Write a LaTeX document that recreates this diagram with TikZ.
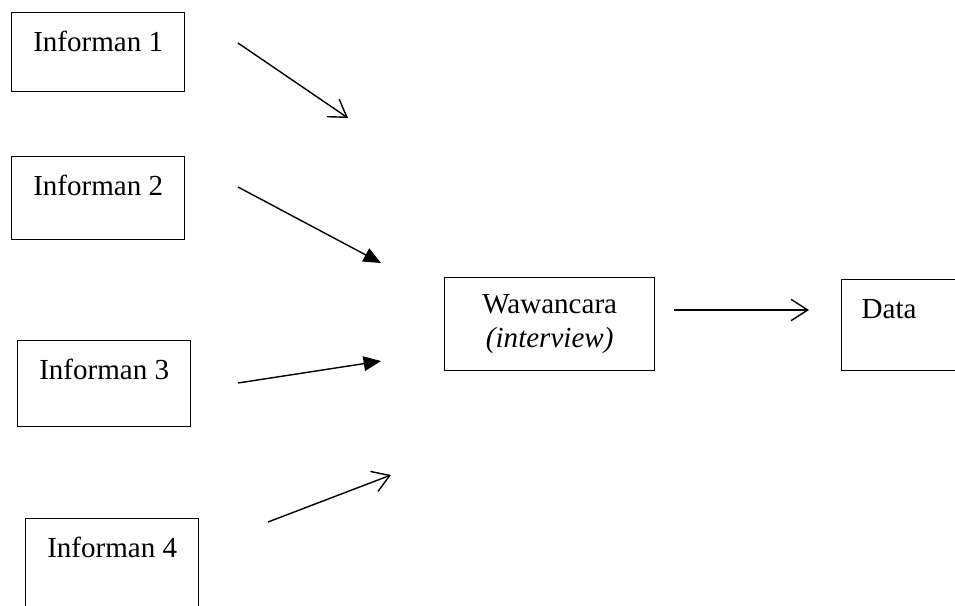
\documentclass[tikz,border=0pt]{standalone}
\usepackage{fontspec}
\setmainfont{Liberation Serif}
\usepackage{tikz}
\usetikzlibrary{positioning,arrows.meta}
\tikzset{
  blk/.style={draw,line width=0.6pt,inner sep=0pt,font=\fontsize{12.4}{14.2}\selectfont},
  inf/.style={blk,anchor=north west,minimum width=2.595cm,text height=0.585cm,align=center},
  ar/.style={-{Straight Barb[length=2.5mm,width=3.2mm]},line width=0.6pt},
  far/.style={-{Triangle[length=2.6mm,width=2.2mm]},line width=0.6pt},
}
\begin{document}
\begin{tikzpicture}[x=0.015cm,y=-0.015cm]
  \clip (0,0) rectangle (955,606);
  % informan
  \node[inf,text depth=0.6cm]  (inf1) at (11,12)  {Informan 1};
  \node[inf,text depth=0.66cm] (inf2) at (11,156) {Informan 2};
  \node[inf,text depth=0.705cm] (inf3) at (17,340) {Informan 3};
  \node[inf,text depth=0.9cm] (inf4) at (25,518) {Informan 4};
  % wawancara + data
  \node[blk,anchor=north west,minimum width=3.15cm,minimum height=1.395cm,align=center]
    (waw) at (444,277) {Wawancara\\\textit{(interview)}};
  \node[blk,anchor=north west,inner xsep=0.3cm,text width=2cm,align=left,
    text height=0.585cm,text depth=0.78cm] (data) at (841,279) {Data};
  % arrow ends
  \coordinate (s1) at (238,43);  \coordinate (e1) at (348,118);
  \coordinate (s2) at (238,187); \coordinate (e2) at (381,263);
  \coordinate (s3) at (238,383); \coordinate (e3) at (381,361);
  \coordinate (s4) at (268,522); \coordinate (e4) at (391,475);
  \coordinate (s5) at (674,310); \coordinate (e5) at (809,310);
  \draw[ar]  (s1) -- (e1);
  \draw[far] (s2) -- (e2);
  \draw[far] (s3) -- (e3);
  \draw[ar]  (s4) -- (e4);
  \draw[ar]  (s5) -- (e5);
\end{tikzpicture}
\end{document}
